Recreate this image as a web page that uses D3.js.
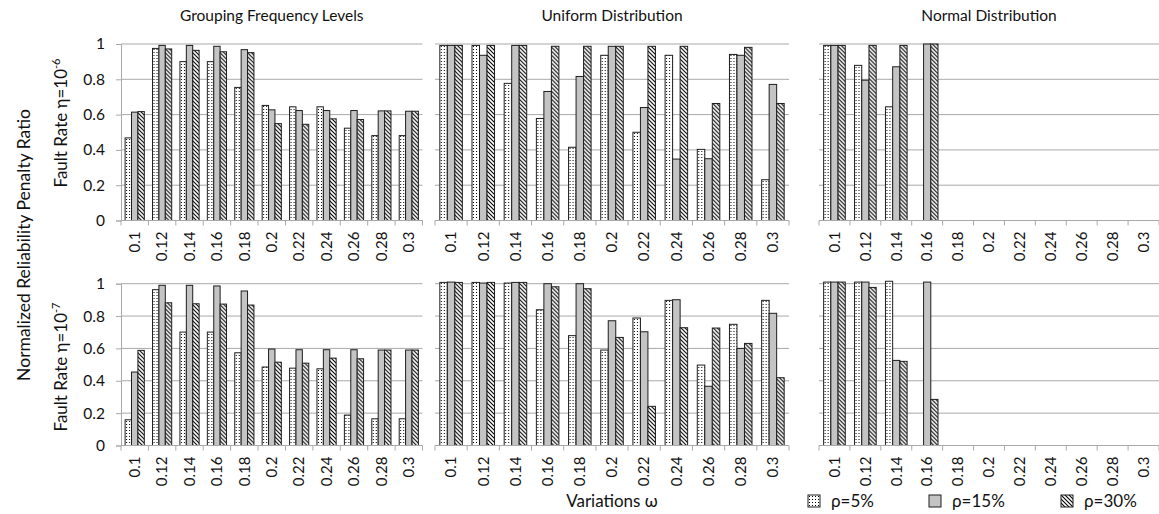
<!DOCTYPE html>
<html>
<head>
<meta charset="utf-8">
<script src="https://cdn.jsdelivr.net/npm/d3@7"></script>
<style>
  html, body { margin: 0; padding: 0; background: #fff; }
  svg { display: block; font-family: Lato, "Open Sans", sans-serif; }
</style>
</head>
<body>
<svg id="chart" width="1159" height="514"></svg>
<script>
// Variation levels on the x axis
const omegas = ["0.1", "0.12", "0.14", "0.16", "0.18", "0.2", "0.22", "0.24", "0.26", "0.28", "0.3"];
const rhoLabels = ["ρ=5%", "ρ=15%", "ρ=30%"];
const panelTitles = ["Grouping Frequency Levels", "Uniform Distribution", "Normal Distribution"];
const yTicks = [0, 0.2, 0.4, 0.6, 0.8, 1];

// Fault rate 1e-6
const freqE6_r5  = [0.468, 0.975, 0.900, 0.900, 0.754, 0.652, 0.644, 0.644, 0.523, 0.481, 0.481];
const freqE6_r15 = [0.614, 0.992, 0.992, 0.987, 0.968, 0.627, 0.623, 0.623, 0.623, 0.621, 0.619];
const freqE6_r30 = [0.617, 0.972, 0.964, 0.956, 0.951, 0.549, 0.545, 0.576, 0.572, 0.621, 0.619];

const unifE6_r5  = [0.992, 0.992, 0.777, 0.578, 0.415, 0.936, 0.500, 0.936, 0.403, 0.941, 0.231];
const unifE6_r15 = [0.992, 0.936, 0.992, 0.731, 0.816, 0.987, 0.640, 0.348, 0.350, 0.936, 0.771];
const unifE6_r30 = [0.992, 0.992, 0.992, 0.987, 0.987, 0.987, 0.987, 0.987, 0.663, 0.981, 0.663];

const normE6_r5  = [0.992, 0.879, 0.644, null, null, null, null, null, null, null, null];
const normE6_r15 = [0.992, 0.795, 0.871, 1.000, null, null, null, null, null, null, null];
const normE6_r30 = [0.992, 0.992, 0.992, 1.000, null, null, null, null, null, null, null];

// Fault rate 1e-7
const freqE7_r5  = [0.159, 0.963, 0.701, 0.701, 0.573, 0.485, 0.478, 0.474, 0.188, 0.165, 0.165];
const freqE7_r15 = [0.454, 0.990, 0.990, 0.986, 0.955, 0.596, 0.592, 0.592, 0.592, 0.590, 0.590];
const freqE7_r30 = [0.588, 0.882, 0.876, 0.874, 0.868, 0.515, 0.509, 0.540, 0.536, 0.590, 0.590];

const unifE7_r5  = [1.008, 1.008, 1.004, 0.839, 0.679, 0.590, 0.788, 0.897, 0.497, 0.749, 0.897];
const unifE7_r15 = [1.010, 1.004, 1.008, 1.000, 1.000, 0.771, 0.703, 0.901, 0.366, 0.600, 0.817];
const unifE7_r30 = [1.008, 1.008, 1.008, 0.981, 0.969, 0.668, 0.242, 0.728, 0.726, 0.631, 0.419];

const normE7_r5  = [1.010, 1.010, 1.015, null, null, null, null, null, null, null, null];
const normE7_r15 = [1.010, 1.010, 0.526, 1.010, null, null, null, null, null, null, null];
const normE7_r30 = [1.010, 0.977, 0.520, 0.285, null, null, null, null, null, null, null];

const rows = [
  [[freqE6_r5, freqE6_r15, freqE6_r30], [unifE6_r5, unifE6_r15, unifE6_r30], [normE6_r5, normE6_r15, normE6_r30]],
  [[freqE7_r5, freqE7_r15, freqE7_r30], [unifE7_r5, unifE7_r15, unifE7_r30], [normE7_r5, normE7_r15, normE7_r30]]
];

// Layout
const panelX = [[121, 422.5], [435, 789], [819, 1159]];
const rowY = [[44, 220.5], [283.7, 445.5]];
const gridColor = "#a9a9a9";
const textColor = "#111";

const svg = d3.select("#chart");

// Fill patterns for the three ρ series
const defs = svg.append("defs");
const dots = defs.append("pattern").attr("id", "pat-dots")
  .attr("patternUnits", "userSpaceOnUse").attr("width", 3).attr("height", 3);
dots.append("rect").attr("width", 3).attr("height", 3).attr("fill", "#fff");
dots.append("rect").attr("x", 1).attr("y", 1).attr("width", 1).attr("height", 1).attr("fill", "#000");

const hatch = defs.append("pattern").attr("id", "pat-hatch")
  .attr("patternUnits", "userSpaceOnUse").attr("width", 4).attr("height", 4);
hatch.append("rect").attr("width", 4).attr("height", 4).attr("fill", "#fff");
hatch.append("path").attr("d", "M-1,-1 L5,5 M-1,3 L1,5 M3,-1 L5,1")
  .attr("stroke", "#000").attr("stroke-width", 1.1);

const fills = ["url(#pat-dots)", "#c4c4c4", "url(#pat-hatch)"];

rows.forEach((row, ri) => {
  const [yTop, yBot] = rowY[ri];
  const y = d3.scaleLinear().domain([0, 1]).range([yBot, yTop]);

  // y-axis labels on the left of the first panel
  const yAxis = d3.axisLeft(y).tickValues(yTicks).tickSize(5).tickFormat(d3.format("~g"));
  const ya = svg.append("g").attr("transform", `translate(${panelX[0][0]},0)`).call(yAxis);
  ya.select(".domain").attr("stroke", gridColor);
  ya.selectAll(".tick line").attr("stroke", gridColor);
  ya.selectAll(".tick text").attr("font-size", 15.5).attr("fill", textColor)
    .attr("x", -16).attr("font-family", "Lato, sans-serif");

  row.forEach((seriesSet, pi) => {
    const [x0, x1] = panelX[pi];
    const x = d3.scaleBand().domain(omegas).range([x0, x1]).paddingInner(0.3).paddingOuter(0.15);
    const xs = d3.scaleBand().domain(d3.range(3)).range([0, x.bandwidth()]);
    const g = svg.append("g");

    // gridlines
    g.selectAll("line.grid").data(yTicks.filter(t => t > 0)).join("line")
      .attr("x1", x0).attr("x2", x1)
      .attr("y1", d => y(d)).attr("y2", d => y(d))
      .attr("stroke", gridColor).attr("stroke-width", 1);

    // bars
    const groups = g.selectAll("g.grp").data(omegas).join("g")
      .attr("transform", d => `translate(${x(d)},0)`);
    groups.selectAll("rect").data((d, i) => seriesSet.map((s, k) => ({ k, v: s[i] })).filter(e => e.v != null))
      .join("rect")
      .attr("x", e => xs(e.k))
      .attr("width", xs.bandwidth())
      .attr("y", e => y(e.v))
      .attr("height", e => y(0) - y(e.v))
      .attr("fill", e => fills[e.k])
      .attr("stroke", "#1e1e1e").attr("stroke-width", 1);

    // baseline with category boundary ticks
    g.append("line").attr("x1", x0).attr("x2", x1).attr("y1", y(0)).attr("y2", y(0))
      .attr("stroke", gridColor);
    const step = (x1 - x0) / omegas.length;
    g.selectAll("line.xt").data(d3.range(omegas.length + 1)).join("line")
      .attr("x1", i => x0 + i * step).attr("x2", i => x0 + i * step)
      .attr("y1", y(0)).attr("y2", y(0) + 5)
      .attr("stroke", gridColor);

    // rotated category labels
    g.selectAll("text.xl").data(omegas).join("text")
      .attr("transform", d => `translate(${x(d) + x.bandwidth() / 2},${y(0) + 11}) rotate(-90)`)
      .attr("text-anchor", "end").attr("dy", "0.35em")
      .attr("font-size", 15).attr("fill", textColor)
      .text(d => d);

    if (ri === 0) {
      svg.append("text").attr("x", (x0 + x1) / 2).attr("y", 21)
        .attr("text-anchor", "middle").attr("font-size", 15.5).attr("fill", textColor)
        .text(panelTitles[pi]);
    }
  });
});

// Row labels
const rowLabels = [{ exp: "-6", cy: 123 }, { exp: "-7", cy: 367 }];
rowLabels.forEach(r => {
  const t = svg.append("text")
    .attr("transform", `translate(67,${r.cy}) rotate(-90)`)
    .attr("text-anchor", "middle").attr("font-size", 17).attr("fill", textColor);
  t.append("tspan").text("Fault Rate η=10");
  t.append("tspan").attr("font-size", 11).attr("dy", -7).text(r.exp);
});

svg.append("text")
  .attr("transform", "translate(30,245) rotate(-90)")
  .attr("text-anchor", "middle").attr("font-size", 17.5).attr("fill", textColor)
  .text("Normalized Reliability Penalty Ratio");

// x-axis title
svg.append("text").attr("x", 612).attr("y", 507).attr("text-anchor", "middle")
  .attr("font-size", 17).attr("fill", textColor).text("Variations ω");

// Legend
const legendX = [808, 929, 1061];
const lg = svg.append("g").selectAll("g").data(rhoLabels).join("g")
  .attr("transform", (d, i) => `translate(${legendX[i]},495)`);
lg.append("rect").attr("width", 12).attr("height", 12)
  .attr("fill", (d, i) => fills[i]).attr("stroke", "#1e1e1e").attr("stroke-width", 1);
lg.append("text").attr("x", 23).attr("y", 12).attr("font-size", 17).attr("fill", textColor)
  .text(d => d);
</script>
</body>
</html>
